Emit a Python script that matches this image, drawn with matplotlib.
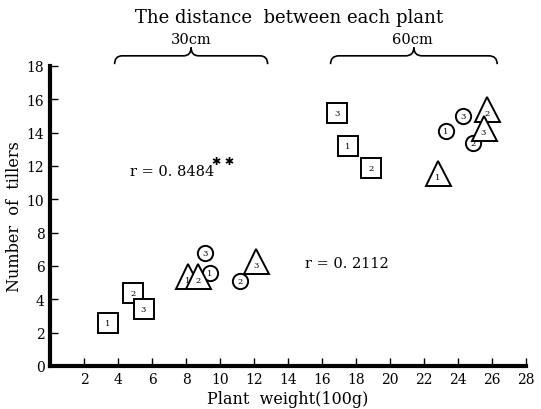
import matplotlib.pyplot as plt
from matplotlib.path import Path
from matplotlib.patches import PathPatch

plt.rcParams['font.family'] = ['DejaVu Serif', 'DejaVu Sans']

# 30cm spacing group
sq30_x = [3.4, 4.9, 5.5]
sq30_y = [2.6, 4.4, 3.4]
sq30_lab = ["1", "2", "3"]
ci30_x = [9.4, 11.2, 9.1]
ci30_y = [5.6, 5.1, 6.8]
ci30_lab = ["1", "2", "3"]
tr30_x = [8.1, 8.7, 12.1]
tr30_y = [5.4, 5.4, 6.3]
tr30_lab = ["1", "2", "3"]

# 60cm spacing group
sq60_x = [17.5, 18.9, 16.9]
sq60_y = [13.2, 11.9, 15.2]
sq60_lab = ["1", "2", "3"]
ci60_x = [23.3, 24.9, 24.3]
ci60_y = [14.1, 13.4, 15.0]
ci60_lab = ["1", "2", "3"]
tr60_x = [22.8, 25.7, 25.5]
tr60_y = [11.6, 15.4, 14.3]
tr60_lab = ["1", "2", "3"]

xticks = list(range(2, 29, 2))
yticks = list(range(0, 19, 2))

fig = plt.figure(figsize=(5.41, 4.10), dpi=100)
ax = fig.add_axes([0.0924, 0.105, 0.88, 0.732])


def draw_group(xs, ys, labels, marker, ms, dy=0.0):
    ax.plot(xs, ys, linestyle="none", marker=marker, markersize=ms,
            markerfacecolor="white", markeredgecolor="black",
            markeredgewidth=1.4, clip_on=False, zorder=3)
    for x, y, t in zip(xs, ys, labels):
        ax.text(x, y + dy, t, ha="center", va="center", fontsize=6, zorder=4)


for xs, ys, labs in [(sq30_x, sq30_y, sq30_lab), (sq60_x, sq60_y, sq60_lab)]:
    draw_group(xs, ys, labs, "s", 14)
for xs, ys, labs in [(ci30_x, ci30_y, ci30_lab), (ci60_x, ci60_y, ci60_lab)]:
    draw_group(xs, ys, labs, "o", 11)
for xs, ys, labs in [(tr30_x, tr30_y, tr30_lab), (tr60_x, tr60_y, tr60_lab)]:
    draw_group(xs, ys, labs, "^", 18, dy=-0.25)

ax.set_xlim(0, 28)
ax.set_ylim(0, 18)
ax.set_xticks(xticks)
ax.set_yticks(yticks)
ax.tick_params(direction="in", length=6, width=1, labelsize=10, pad=4)
for s in ["top", "right"]:
    ax.spines[s].set_visible(False)
for s in ["left", "bottom"]:
    ax.spines[s].set_linewidth(3)

ax.set_xlabel("Plant  weight(100g)", fontsize=11.5, labelpad=3)
ax.set_ylabel("Number  of  tillers", fontsize=11.5, labelpad=3)

ax.text(4.7, 11.7, "r = 0. 8484", fontsize=10.5, ha="left", va="center")
ax.text(9.5, 12.3, "\u2731 \u2731", fontsize=8, ha="left", va="center")
ax.text(15.0, 6.2, "r = 0. 2112", fontsize=10.5, ha="left", va="center")


def brace(x0, x1, y, h):
    xm = (x0 + x1) / 2
    d = (x1 - x0) * 0.05
    verts = [(x0, y - h), (x0, y), (x0 + d, y),
             (xm - d, y), (xm, y), (xm, y + h),
             (xm, y), (xm + d, y),
             (x1 - d, y), (x1, y), (x1, y - h)]
    codes = [Path.MOVETO, Path.CURVE3, Path.CURVE3,
             Path.LINETO, Path.CURVE3, Path.CURVE3,
             Path.CURVE3, Path.CURVE3,
             Path.LINETO, Path.CURVE3, Path.CURVE3]
    ax.add_patch(PathPatch(Path(verts, codes), facecolor="none",
                           edgecolor="black", lw=1.2, clip_on=False))


brace(3.8, 12.8, 18.6, 0.5)
brace(16.5, 26.3, 18.6, 0.5)

fig.text(0.535, 0.955, "The distance  between each plant", fontsize=13,
         ha="center", va="center")
ax.text(8.3, 19.6, "30cm", fontsize=10.5, ha="center", va="center")
ax.text(21.3, 19.6, "60cm", fontsize=10.5, ha="center", va="center")

fig.savefig("out.png", dpi=100)
